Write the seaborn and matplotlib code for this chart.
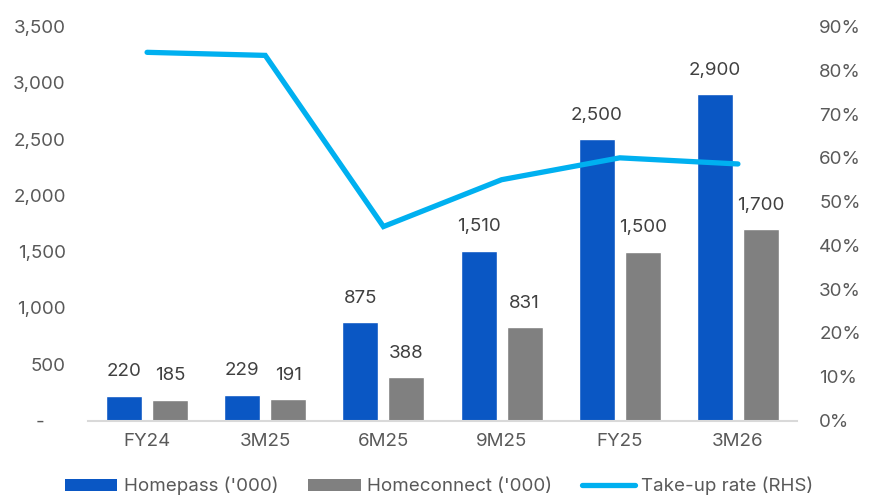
import matplotlib
matplotlib.use("Agg")
import matplotlib.pyplot as plt
from matplotlib.ticker import FuncFormatter, MultipleLocator
from matplotlib.patches import Patch
from matplotlib.lines import Line2D
import seaborn as sns
import pandas as pd

categories = ["FY24", "3M25", "6M25", "9M25", "FY25", "3M26"]
homepass = [220, 229, 875, 1510, 2500, 2900]
homeconnect = [185, 191, 388, 831, 1500, 1700]
take_up = [84.1, 83.4, 44.3, 55.0, 60.0, 58.6]
series_names = ["Homepass ('000)", "Homeconnect ('000)", "Take-up rate (RHS)"]
left_ticks = [0, 500, 1000, 1500, 2000, 2500, 3000, 3500]
right_ticks = [0, 10, 20, 30, 40, 50, 60, 70, 80, 90]

BLUE = "#0A57C4"
GREY = "#808080"
LINE = "#00B0F0"
TXT = "#595959"

sns.set_theme(style="white")
plt.rcParams["font.family"] = ["Inter", "DejaVu Sans"]

df = pd.DataFrame({
    "cat": categories * 2,
    "value": homepass + homeconnect,
    "series": [series_names[0]] * len(categories) + [series_names[1]] * len(categories),
})
df_line = pd.DataFrame({"cat": categories, "rate": take_up})

fig = plt.figure(figsize=(8.7, 4.98), dpi=100)
ax = fig.add_axes([88 / 870, 1 - 420.5 / 498, (797 - 88) / 870, (420.5 - 26.5) / 498])

sns.barplot(data=df, x="cat", y="value", hue="series", order=categories,
            hue_order=series_names[:2], palette=[BLUE, GREY],
            width=0.78, gap=0.22, ax=ax, legend=False, saturation=1, errorbar=None)

ax.set_ylim(0, 3500)
ax.set_xlim(-0.5, 5.5)
ax.set_yticks(left_ticks)
ax.yaxis.set_major_formatter(FuncFormatter(lambda v, p: "-    " if v == 0 else f"{int(v):,}"))
ax.set_xlabel("")
ax.set_ylabel("")
for s in ["top", "left", "right"]:
    ax.spines[s].set_visible(False)
ax.spines["bottom"].set_color("#D9D9D9")
ax.spines["bottom"].set_linewidth(1.5)
ax.tick_params(axis="both", length=0, labelsize=13.5, labelcolor=TXT)
ax.tick_params(axis="x", pad=9)
ax.tick_params(axis="y", pad=16)

# data labels
for container, vals in zip(ax.containers, [homepass, homeconnect]):
    for bar, v in zip(container, vals):
        ax.annotate(f"{v:,}", (bar.get_x() + bar.get_width() / 2, bar.get_height()),
                    xytext=(0, 11), textcoords="offset points", ha="center", va="bottom",
                    fontsize=13.5, color="#404040")

ax2 = ax.twinx()
sns.lineplot(data=df_line, x="cat", y="rate", ax=ax2, color=LINE, linewidth=3.8,
             sort=False, legend=False)
for l in ax2.lines:
    l.set_solid_capstyle("round")
    l.set_solid_joinstyle("miter")
ax2.set_ylim(0, 90)
ax2.set_yticks(right_ticks)
ax2.yaxis.set_major_formatter(FuncFormatter(lambda v, p: f"{int(v)}%"))
ax2.set_ylabel("")
ax2.set_xlim(-0.5, 5.5)
for s in ["top", "left", "right", "bottom"]:
    ax2.spines[s].set_visible(False)
ax2.tick_params(axis="y", length=0, labelsize=13.5, labelcolor=TXT, pad=16)

handles = [Patch(facecolor=BLUE, edgecolor="none"),
           Patch(facecolor=GREY, edgecolor="none"),
           Line2D([0], [0], color=LINE, linewidth=3.8, solid_capstyle="round")]
leg = fig.legend(handles, series_names, loc="center", bbox_to_anchor=(439 / 870, 1 - 486 / 498),
                 ncol=3, frameon=False, fontsize=13.5, handlelength=2.8, handleheight=0.6,
                 handletextpad=0.35, columnspacing=1.6, borderaxespad=0, borderpad=0)
for t in leg.get_texts():
    t.set_color(TXT)

fig.savefig("out.png", dpi=100)
